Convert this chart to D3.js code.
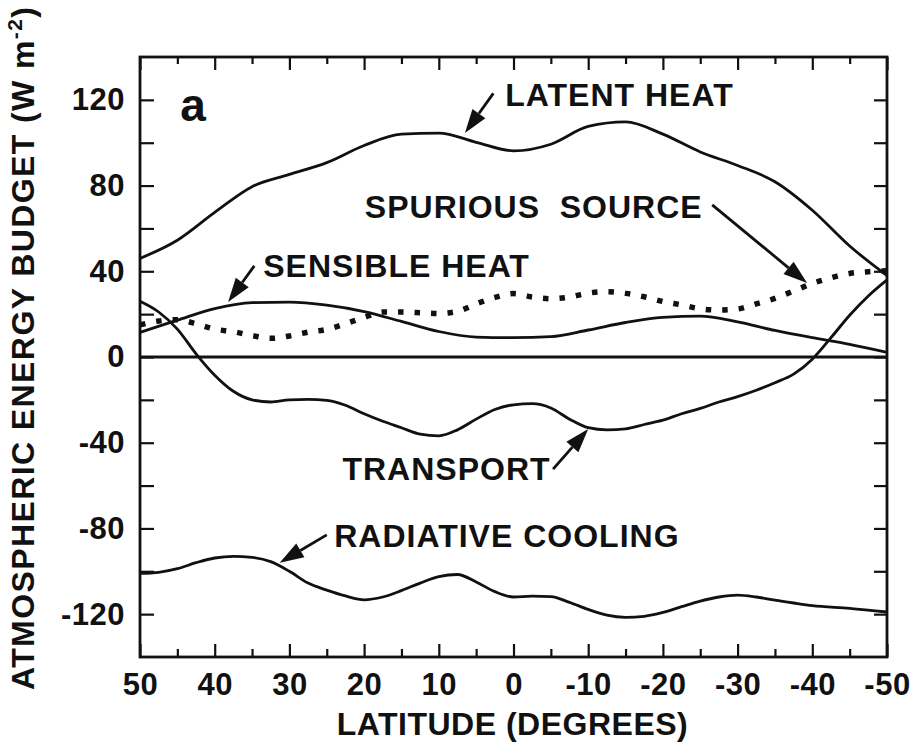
<!DOCTYPE html>
<html>
<head>
<meta charset="utf-8">
<script src="https://cdn.jsdelivr.net/npm/d3@7"></script>
<style>
  html, body { margin: 0; padding: 0; background: #fff; }
  svg { display: block; }
  text { font-family: "Liberation Sans", Arial, Helvetica, sans-serif; font-weight: bold; fill: #111; }
</style>
</head>
<body>
<svg id="chart" width="914" height="749"></svg>
<script>
// ---------------- DATA ----------------
const latentLat = [50,45,40,35,30,25,20,15,10,5,0,-5,-10,-15,-20,-25,-30,-35,-40,-45,-50];
const latentVal = [46,54.5,67.5,79.5,85.2,90.7,98.7,104,104.5,100.2,96.2,99.3,107.6,109.7,104,95.7,89.4,81.8,68.5,51.8,38];

const sensibleLat = [50,45,40,35,30,25,20,15,10,5,0,-5,-10,-15,-20,-25,-30,-35,-40,-45,-50];
const sensibleVal = [11.5,17.2,22.6,25.4,25.6,24.2,21.2,16.6,11.9,9.3,9,9.5,12.6,16.1,18.5,19.1,16.4,12.4,9,5.9,2.2];

const spuriousLat = [50,47.5,45,42.5,40,37.5,35,32.5,30,27.5,25,22.5,20,17.5,15,12.5,10,7.5,5,2.5,0,-2.5,-5,-7.5,-10,-12.5,-15,-17.5,-20,-22.5,-25,-27.5,-30,-32.5,-35,-37.5,-40,-42.5,-45,-47.5,-50];
const spuriousVal = [15,16.8,17.4,15.5,13,11.8,10,8.7,9.8,11.6,12.9,15.5,18.5,21,21,20.7,20.3,21.3,24.8,27.8,29.6,28,27.2,28,29.8,30.5,29.7,28.1,25.9,24.3,22.5,21.9,22.4,24.8,27.4,30.8,34.3,37,39,39.8,40.2];

const transportLat = [50,47.5,45,42.5,40,37.5,35,32.5,30,27.5,25,22.5,20,17.5,15,12.5,10,7.5,5,2.5,0,-2.5,-5,-7.5,-10,-12.5,-15,-17.5,-20,-22.5,-25,-27.5,-30,-32.5,-35,-37.5,-40,-42.5,-45,-47.5,-50];
const transportVal = [26,21,13,1.5,-8.5,-16,-20,-21,-20,-19.8,-20.2,-22.5,-26.5,-30,-33,-36,-36.8,-34,-29,-24.5,-22.3,-21.8,-23.8,-29,-33,-34,-33.5,-31.5,-29.5,-26.5,-24,-21,-18.5,-15.5,-12,-8,-1,9,19.5,28.5,36];

const radiativeLat = [50,47.5,45,42.5,40,37.5,35,32.5,30,27.5,25,22.5,20,17.5,15,12.5,10,7.5,5,2.5,0,-2.5,-5,-7.5,-10,-12.5,-15,-17.5,-20,-22.5,-25,-27.5,-30,-32.5,-35,-37.5,-40,-45,-50];
const radiativeVal = [-101,-100.5,-98.8,-96,-93.8,-93,-93.5,-95.5,-100,-105.5,-108.8,-111.5,-113.3,-112,-109,-105.5,-102.5,-101.5,-105,-109.5,-112,-111.6,-111.8,-114.5,-117.8,-120.5,-121.5,-121,-119.2,-116.5,-113.9,-112,-111.1,-112,-113.5,-114.8,-116,-117.3,-119];

const xTickLabels = [50,40,30,20,10,0,-10,-20,-30,-40,-50];
const xMinorTicks = [45,35,25,15,5,-5,-15,-25,-35,-45];
const yTickLabels = [120,80,40,0,-40,-80,-120];
const yAllTicks = [120,100,80,60,40,20,0,-20,-40,-60,-80,-100,-120];

const annoNames = ["LATENT HEAT","SPURIOUS  SOURCE","SENSIBLE HEAT","TRANSPORT","RADIATIVE COOLING"];
// text anchor (lat, value), arrow tail (lat, value), arrow tip (lat, value)
const annoTextLat = [1.1, 19.9, 33.5, 22.9, 24];
const annoTextVal = [117, 65, 37.3, -57.4, -88.7];
const arrowFromLat = [2.7, -26.6, 34.7, -5.3, 25];
const arrowFromVal = [123, 71, 42.5, -52.3, -83];
const arrowToLat = [6.5, -39.3, 38.2, -10, 31.3];
const arrowToVal = [104.5, 34.5, 25.7, -33.6, -96];

// ---------------- LAYOUT ----------------
const svg = d3.select("#chart");
const L = 140, R = 887, T = 57, B = 657;
const x = d3.scaleLinear().domain([50, -50]).range([L, R]);
const y = d3.scaleLinear().domain([-140, 140]).range([B, T]);
const FS = 31;
const fmt = d => String(d);

function styleAxis(g) {
  g.select(".domain").remove();
  g.selectAll("line").attr("stroke", "#111").attr("stroke-width", 2.2);
  g.selectAll("text").attr("font-size", FS).attr("font-family", "Liberation Sans, Arial, sans-serif")
    .attr("font-weight", "bold").attr("fill", "#111").attr("letter-spacing", 0.5);
}
svg.append("g").attr("transform", `translate(0,${B})`)
  .call(d3.axisBottom(x).tickValues(xTickLabels).tickSize(-13).tickPadding(16).tickFormat(fmt))
  .call(styleAxis);
svg.append("g").attr("transform", `translate(0,${B})`)
  .call(d3.axisBottom(x).tickValues(xMinorTicks).tickSize(-8).tickFormat(""))
  .call(styleAxis);
svg.append("g").attr("transform", `translate(0,${T})`)
  .call(d3.axisTop(x).tickValues(xTickLabels).tickSize(-13).tickFormat(""))
  .call(styleAxis);
svg.append("g").attr("transform", `translate(0,${T})`)
  .call(d3.axisTop(x).tickValues(xMinorTicks).tickSize(-7).tickFormat(""))
  .call(styleAxis);
svg.append("g").attr("transform", `translate(${L},0)`)
  .call(d3.axisLeft(y).tickValues(yAllTicks).tickSize(-14).tickPadding(15)
    .tickFormat(d => yTickLabels.includes(d) ? fmt(d) : ""))
  .call(styleAxis);
svg.append("g").attr("transform", `translate(${R},0)`)
  .call(d3.axisRight(y).tickValues(yAllTicks).tickSize(-13).tickFormat(""))
  .call(styleAxis);

// frame
svg.append("rect").attr("x", L).attr("y", T).attr("width", R - L).attr("height", B - T)
  .attr("fill", "none").attr("stroke", "#111").attr("stroke-width", 2.8);

// zero line
svg.append("line").attr("x1", x(50)).attr("x2", x(-50)).attr("y1", y(0)).attr("y2", y(0))
  .attr("stroke", "#111").attr("stroke-width", 2.8);

// curves
const line = d3.line().x(d => x(d[0])).y(d => y(d[1])).curve(d3.curveMonotoneX);
function addSeries(lats, vals, dotted) {
  const pts = lats.map((l, i) => [l, vals[i]]);
  const p = svg.append("path").datum(pts).attr("d", line)
    .attr("fill", "none").attr("stroke", "#111");
  if (dotted) {
    p.attr("stroke-width", 5.5).attr("stroke-dasharray", "5.5,11");
  } else {
    p.attr("stroke-width", 2.8).attr("stroke-linejoin", "round");
  }
}
addSeries(latentLat, latentVal, false);
addSeries(sensibleLat, sensibleVal, false);
addSeries(transportLat, transportVal, false);
addSeries(radiativeLat, radiativeVal, false);
addSeries(spuriousLat, spuriousVal, true);

// annotations
annoNames.forEach((name, i) => {
  svg.append("text").attr("x", x(annoTextLat[i])).attr("y", y(annoTextVal[i]))
    .attr("font-size", 32).attr("letter-spacing", 1).style("white-space", "pre").text(name);
  const x1 = x(arrowFromLat[i]), y1 = y(arrowFromVal[i]);
  const x2 = x(arrowToLat[i]), y2 = y(arrowToVal[i]);
  const ang = Math.atan2(y2 - y1, x2 - x1);
  const hl = 24, hw = 8;
  const bx = x2 - hl * Math.cos(ang), by = y2 - hl * Math.sin(ang);
  svg.append("line").attr("x1", x1).attr("y1", y1).attr("x2", bx).attr("y2", by)
    .attr("stroke", "#111").attr("stroke-width", 2.8);
  const px = -Math.sin(ang), py = Math.cos(ang);
  svg.append("path")
    .attr("d", `M${x2},${y2}L${bx + hw * px},${by + hw * py}L${bx - hw * px},${by - hw * py}Z`)
    .attr("fill", "#111");
});

// panel letter
svg.append("text").attr("x", x(44.6)).attr("y", y(110)).attr("font-size", 46).text("a");

// axis titles
svg.append("text").attr("x", (L + R) / 2 - 1).attr("y", 735).attr("text-anchor", "middle")
  .attr("font-size", 32).attr("letter-spacing", 0.5).text("LATITUDE (DEGREES)");

const yt = svg.append("text").attr("transform", "translate(34,690) rotate(-90)")
  .attr("font-size", 32).attr("textLength", 683).attr("lengthAdjust", "spacing");
yt.append("tspan").text("ATMOSPHERIC ENERGY BUDGET (W m");
yt.append("tspan").attr("dy", -12).attr("font-size", 21).text("-2");
yt.append("tspan").attr("dy", 12).text(")");
</script>
</body>
</html>
